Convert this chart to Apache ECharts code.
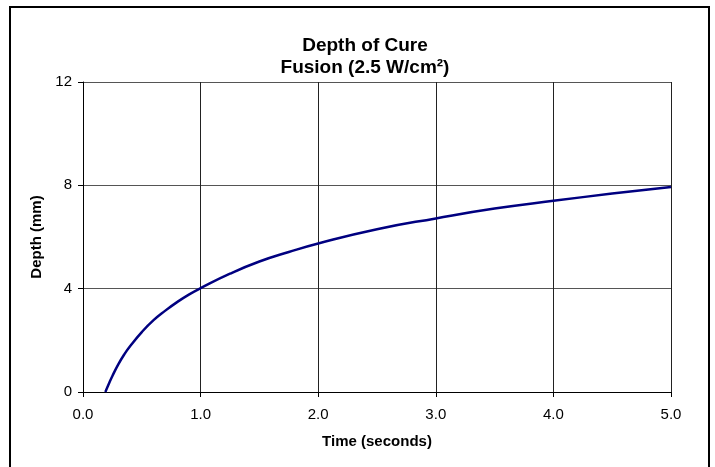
<!DOCTYPE html>
<html>
<head>
<meta charset="utf-8">
<script src="https://cdn.jsdelivr.net/npm/echarts@6/dist/echarts.min.js"></script>
<style>
html,body{margin:0;padding:0;background:#fff;}
#c{width:715px;height:467px;}
</style>
</head>
<body>
<div id="c"></div>
<script>
// Time (seconds)
var timeValues = [0.19, 0.22, 0.25, 0.3, 0.35, 0.4, 0.5, 0.6, 0.7, 0.8, 0.9, 1.0, 1.25, 1.5, 1.75, 2.0, 2.5, 3.0, 3.5, 4.0, 4.5, 5.0];
// Depth (mm)
var depthValues = [0, 0.32, 0.62, 1.07, 1.45, 1.77, 2.32, 2.78, 3.15, 3.48, 3.77, 4.02, 4.58, 5.05, 5.42, 5.75, 6.3, 6.72, 7.1, 7.4, 7.68, 7.94];
var titleLines = ['Depth of Cure', 'Fusion (2.5 W/cm\u00B2)'];
var xAxisName = 'Time (seconds)';
var yAxisName = 'Depth (mm)';

var points = timeValues.map(function (t, i) { return [t, depthValues[i]]; });
var font = '"Liberation Sans", Arial, sans-serif';

var chart = echarts.init(document.getElementById('c'), null, {renderer: 'canvas'});
chart.setOption({
  animation: false,
  backgroundColor: '#ffffff',
  title: {
    text: titleLines.join('\n'),
    left: 360,
    top: 30,
    textAlign: 'center',
    textStyle: {fontFamily: font, fontSize: 19, fontWeight: 'bold', color: '#000', lineHeight: 22}
  },
  graphic: [{
    type: 'rect',
    shape: {x: 10, y: 7, width: 699, height: 480},
    style: {fill: 'none', stroke: '#000', lineWidth: 2},
    silent: true
  }],
  grid: {left: 83, top: 82, right: 44, bottom: 75, containLabel: false},
  xAxis: {
    type: 'value', min: 0, max: 5, interval: 1,
    name: xAxisName, nameLocation: 'middle', nameGap: 42,
    nameTextStyle: {fontFamily: font, fontSize: 15, fontWeight: 'bold', color: '#000'},
    axisLine: {show: true, lineStyle: {color: '#000', width: 1}},
    axisTick: {show: true, length: 5, lineStyle: {color: '#000'}},
    axisLabel: {fontFamily: font, fontSize: 15, color: '#000', margin: 15,
      formatter: function (v) { return v.toFixed(1); }},
    splitLine: {show: true, lineStyle: {color: '#222', width: 1}}
  },
  yAxis: {
    type: 'value', min: 0, max: 12, interval: 4,
    name: yAxisName, nameLocation: 'middle', nameGap: 35, nameRotate: 90,
    nameTextStyle: {fontFamily: font, fontSize: 15, fontWeight: 'bold', color: '#000'},
    axisLine: {show: true, lineStyle: {color: '#000', width: 1}},
    axisTick: {show: true, length: 5, lineStyle: {color: '#000'}},
    axisLabel: {fontFamily: font, fontSize: 15, color: '#000', margin: 11},
    splitLine: {show: true, lineStyle: {color: '#555', width: 1}}
  },
  series: [{
    type: 'line',
    data: points,
    smooth: 0.5,
    showSymbol: false,
    symbol: 'none',
    lineStyle: {color: '#000080', width: 2.5},
    clip: true
  }]
});
</script>
</body>
</html>
